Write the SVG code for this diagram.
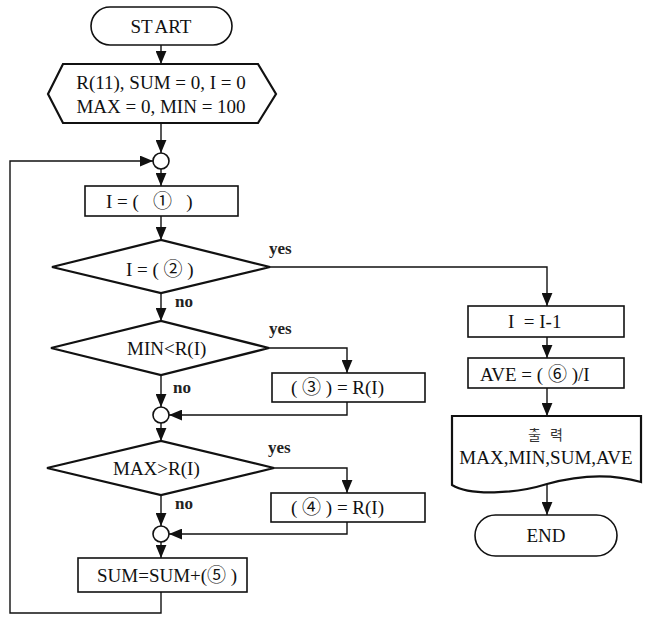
<svg xmlns="http://www.w3.org/2000/svg" width="649" height="620" viewBox="0 0 649 620">
<style>
.shape{fill:#fff;stroke:#111;stroke-width:1.6}
.thick{fill:#fff;stroke:#111;stroke-width:2.2}
.line{fill:none;stroke:#111;stroke-width:1.4}
.t{font-family:"Liberation Serif","Noto Sans CJK KR",serif;font-size:19px;fill:#111}
.c{text-anchor:middle}
.lab{font-family:"Liberation Serif",serif;font-size:17px;font-weight:bold;fill:#222}
.k{font-family:"Noto Sans CJK KR",sans-serif;font-size:14px;fill:#333;text-anchor:middle;letter-spacing:3px}
</style>
<defs>
<marker id="arr" markerUnits="userSpaceOnUse" viewBox="0 0 12 10" refX="12" refY="5" markerWidth="13" markerHeight="11" orient="auto">
<path d="M0,0 L12,5 L0,10 Z" fill="#111"/>
</marker>
</defs>
<g id="connectors">
<line class="line" x1="161" y1="45" x2="161" y2="64" marker-end="url(#arr)"/>
<line class="line" x1="161" y1="123" x2="161" y2="153" marker-end="url(#arr)"/>
<line class="line" x1="161" y1="169" x2="161" y2="186" marker-end="url(#arr)"/>
<line class="line" x1="161" y1="216" x2="161" y2="240" marker-end="url(#arr)"/>
<line class="line" x1="161" y1="293" x2="161" y2="321" marker-end="url(#arr)"/>
<line class="line" x1="161" y1="375" x2="161" y2="407" marker-end="url(#arr)"/>
<line class="line" x1="161" y1="423" x2="161" y2="441" marker-end="url(#arr)"/>
<line class="line" x1="161" y1="495" x2="161" y2="526" marker-end="url(#arr)"/>
<line class="line" x1="161" y1="542" x2="161" y2="558" marker-end="url(#arr)"/>
<polyline class="line" points="161,592 161,613 10,613 10,161 153,161" marker-end="url(#arr)"/>
<polyline class="line" points="270,267 547,267 547,306" marker-end="url(#arr)"/>
<polyline class="line" points="269,348 347,348 347,373" marker-end="url(#arr)"/>
<polyline class="line" points="347,402 347,415 169,415" marker-end="url(#arr)"/>
<polyline class="line" points="274,468 347,468 347,493" marker-end="url(#arr)"/>
<polyline class="line" points="347,522 347,534 169,534" marker-end="url(#arr)"/>
<line class="line" x1="547" y1="337" x2="547" y2="358" marker-end="url(#arr)"/>
<line class="line" x1="547" y1="388" x2="547" y2="416" marker-end="url(#arr)"/>
<line class="line" x1="547" y1="484" x2="547" y2="515" marker-end="url(#arr)"/>
<text class="lab" x="269" y="254">yes</text>
<text class="lab" x="175" y="307">no</text>
<text class="lab" x="269" y="334">yes</text>
<text class="lab" x="173" y="393">no</text>
<text class="lab" x="268" y="453">yes</text>
<text class="lab" x="175" y="509">no</text>
</g>
<g id="start">
<rect class="shape" x="91" y="7" width="141" height="38" rx="19"/>
<text class="t c" x="161" y="33" word-spacing="-1.5">ST ART</text>
</g>
<g id="init">
<polygon class="thick" points="48,94 63,64 258,64 276,94 258,123 63,123"/>
<text class="t c" x="161" y="89">R(11), SUM = 0, I = 0</text>
<text class="t c" x="161" y="113">MAX = 0, MIN = 100</text>
</g>
<g id="join1"><circle class="shape" cx="161" cy="161" r="8"/></g>
<g id="step1">
<rect class="shape" x="85" y="186" width="153" height="30"/>
<text class="t" x="106" y="208" xml:space="preserve">I = (   ①   )</text>
</g>
<g id="dec1">
<polygon class="thick" points="52,267 161,240 270,267 161,293"/>
<text class="t" x="126" y="276">I = ( ② )</text>
</g>
<g id="dec2">
<polygon class="thick" points="51,348 161,321 269,348 161,375"/>
<text class="t" x="127" y="355">MIN&lt;R(I)</text>
</g>
<g id="step3">
<rect class="shape" x="272" y="373" width="153" height="29"/>
<text class="t" x="291" y="394">( ③ ) = R(I)</text>
</g>
<g id="join2"><circle class="shape" cx="161" cy="415" r="8"/></g>
<g id="dec3">
<polygon class="thick" points="47,468 161,441 274,468 161,495"/>
<text class="t" x="113" y="475">MAX&gt;R(I)</text>
</g>
<g id="step4">
<rect class="shape" x="271" y="493" width="154" height="29"/>
<text class="t" x="291" y="514">( ④ ) = R(I)</text>
</g>
<g id="join3"><circle class="shape" cx="161" cy="534" r="8"/></g>
<g id="sum">
<rect class="shape" x="78" y="558" width="169" height="34"/>
<text class="t" x="97" y="582">SUM=SUM+(⑤ )</text>
</g>
<g id="dec">
<rect class="shape" x="468" y="306" width="156" height="31"/>
<text class="t" x="508" y="328" xml:space="preserve">I  = I-1</text>
</g>
<g id="ave">
<rect class="shape" x="468" y="358" width="156" height="30"/>
<text class="t" x="480" y="381">AVE = ( ⑥ )/I</text>
</g>
<g id="output">
<path class="thick" d="M452,416 H641 V482 C620,476 590,472 547,484 C515,494 470,496 452,485 Z"/>
<text class="k" x="547" y="440">출 력</text>
<text class="t c" x="546" y="464">MAX,MIN,SUM,AVE</text>
</g>
<g id="end">
<rect class="shape" x="475" y="515" width="142" height="41" rx="20.5"/>
<text class="t c" x="546" y="542">END</text>
</g>
</svg>
